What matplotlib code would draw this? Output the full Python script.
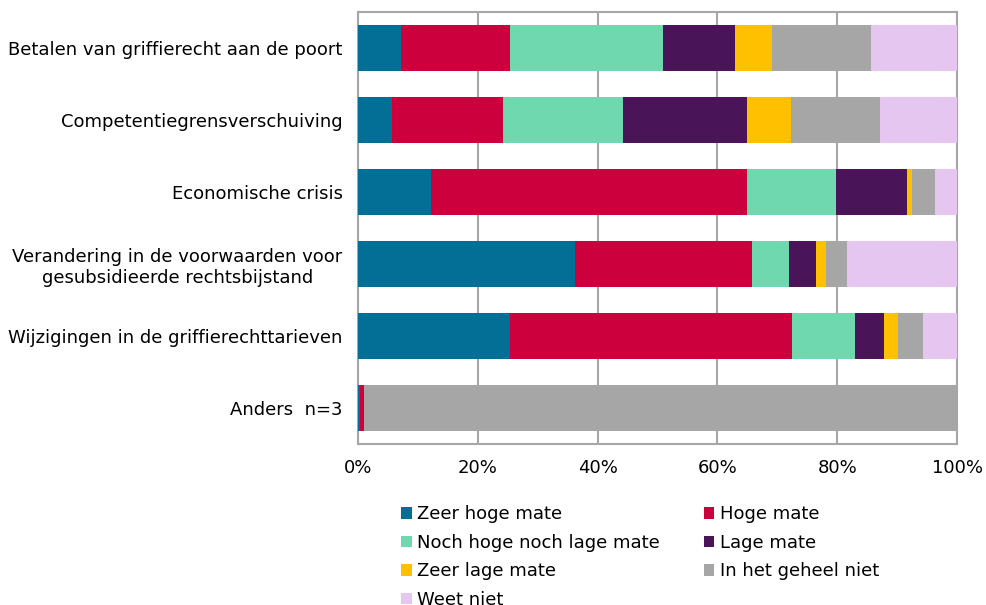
import numpy as np
import matplotlib.pyplot as plt

categories = ['Betalen van griffierecht aan de poort',
              'Competentiegrensverschuiving',
              'Economische crisis',
              'Verandering in de voorwaarden voor\ngesubsidieerde rechtsbijstand',
              'Wijzigingen in de griffierechttarieven',
              'Anders  n=3']

series = ['Zeer hoge mate', 'Hoge mate', 'Noch hoge noch lage mate',
          'Lage mate', 'Zeer lage mate', 'In het geheel niet', 'Weet niet']

zeer_hoge = [7.2, 5.7, 12.2, 36.3, 25.4, 0.4]
hoge = [18.2, 18.5, 52.8, 29.5, 47.1, 0.6]
noch = [25.5, 20.1, 14.8, 6.2, 10.4, 0.0]
lage = [12.1, 20.7, 11.8, 4.4, 4.9, 0.0]
zeer_lage = [6.1, 7.3, 0.9, 1.8, 2.4, 0.0]
geheel_niet = [16.5, 14.8, 3.9, 3.5, 4.1, 99.0]
weet_niet = [14.4, 12.9, 3.6, 18.3, 5.7, 0.0]

colors = ['#036F96', '#CC003D', '#70D8AF', '#4A1458',
          '#FFC000', '#A6A6A6', '#E4C6F0']

values = [zeer_hoge, hoge, noch, lage, zeer_lage, geheel_niet, weet_niet]

fig = plt.figure(figsize=(9.87, 6.05), dpi=100)
ax = fig.add_axes([358/987, 1-444/605, 599/987, 432/605])

y = np.arange(len(categories))
left = np.zeros(len(categories))
bars = []
for name, vals, col in zip(series, values, colors):
    b = ax.barh(y, vals, left=left, height=0.65, color=col, label=name, zorder=3)
    bars.append(b)
    left += np.array(vals)

ax.set_xlim(0, 100)
ax.set_ylim(5.5, -0.5)
ax.set_yticks(y)
ax.set_yticklabels(categories, fontsize=13, multialignment='center')
ax.set_xticks(np.arange(0, 101, 20))
ax.set_xticklabels(['%d%%' % v for v in range(0, 101, 20)], fontsize=13)
ax.tick_params(axis='both', length=0)
ax.tick_params(axis='x', pad=11)
ax.tick_params(axis='y', pad=11)
ax.grid(axis='x', color='#A6A6A6', lw=1.5, zorder=0)
for s in ax.spines.values():
    s.set_color('#A6A6A6')
    s.set_linewidth(1.5)

# legend filled row by row like the original
order = [0, 2, 4, 6, 1, 3, 5]
fig.legend([bars[i] for i in order], [series[i] for i in order],
           ncol=2, loc='upper left', bbox_to_anchor=(385/987, 1-489/605),
           frameon=False, fontsize=13, handlelength=0.6, handleheight=0.6,
           handletextpad=0.3, labelspacing=0.58, columnspacing=2.4)

plt.savefig('out.png', dpi=100)
